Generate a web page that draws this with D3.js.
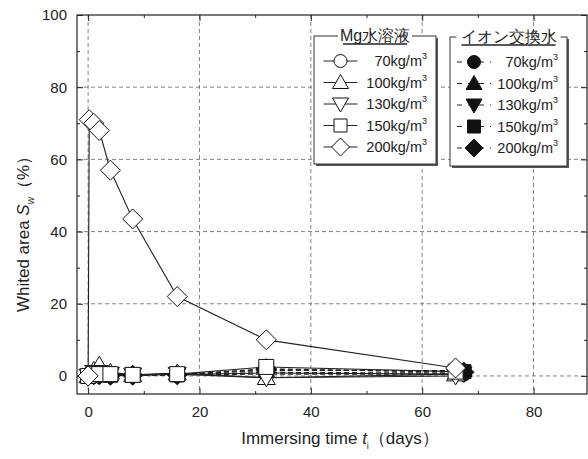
<!DOCTYPE html>
<html>
<head>
<meta charset="utf-8">
<script src="https://cdn.jsdelivr.net/npm/d3@7"></script>
<style>
  body { margin: 0; background: #fff; }
  text { font-family: "Liberation Sans", Arial, sans-serif; fill: #222; }
</style>
</head>
<body>
<div id="chart"></div>
<script>
// data
var mgDays = [0, 1, 2, 4, 8, 16, 32, 66];
var mg200Days = [0, 0.2, 1, 2, 4, 8, 16, 32, 66];
var ionDays = [0, 1, 2, 4, 8, 16, 32, 67.5];

var mg70 = [0, 0.3, 0.5, 0.3, 0.2, 0.4, 0.8, 0.5];
var mg100 = [0, 1.5, 3, 1, 0.3, 0.8, -0.5, 0.5];
var mg130 = [0, 1, 1, 0.5, 0.3, 0.5, -0.5, 0];
var mg150 = [0, 0.5, 0.5, 0.5, 0.3, 0.5, 2.5, 1.2];
var mg200 = [0, 71, 70, 68, 57, 43.5, 22, 10, 2.2];

var ion70 = [0, 0.2, 0.3, 0.2, 0.2, 0.3, 0.5, 0.5];
var ion100 = [0, 0.5, 0.5, 0.3, 0.3, 0.5, 1.5, 1.5];
var ion130 = [0, 0.3, 0.3, 0.3, 0.2, 0.3, 1, 0.8];
var ion150 = [0, 0.3, 0.3, 0.2, 0.2, 0.3, 1.8, 1.2];
var ion200 = [0, 0.3, 0.3, 0.2, 0.2, 0.3, 2, 1];

var legendLabels = ["70kg/m", "100kg/m", "130kg/m", "150kg/m", "200kg/m"];
var xTicks = [0, 20, 40, 60, 80];
var yTicks = [0, 20, 40, 60, 80, 100];

var svgWidth = 588, svgHeight = 459;
var margin = { top: 15, right: 1, bottom: 65, left: 77 };
var width = svgWidth - margin.left - margin.right;
var height = svgHeight - margin.top - margin.bottom;

var svg = d3.select("#chart").append("svg")
  .attr("width", svgWidth)
  .attr("height", svgHeight);

var chartGroup = svg.append("g")
  .attr("transform", `translate(${margin.left}, ${margin.top})`);

var xScale = d3.scaleLinear().domain([-2, 89.6]).range([0, width]);
var yScale = d3.scaleLinear().domain([-5, 100]).range([height, 0]);

// grid
chartGroup.append("g").selectAll("line")
  .data(xTicks).enter().append("line")
  .attr("x1", d => xScale(d)).attr("x2", d => xScale(d))
  .attr("y1", 0).attr("y2", height)
  .attr("stroke", "#666").attr("stroke-width", 0.8)
  .attr("stroke-dasharray", "4,3");
chartGroup.append("g").selectAll("line")
  .data(yTicks.slice(0, 5)).enter().append("line")
  .attr("y1", d => yScale(d)).attr("y2", d => yScale(d))
  .attr("x1", 0).attr("x2", width)
  .attr("stroke", "#666").attr("stroke-width", 0.8)
  .attr("stroke-dasharray", "4,3");

// axes with inward ticks
var minorX = [10, 30, 50, 70];
var minorY = [10, 30, 50, 70, 90];
function styleAxis(g) {
  g.select(".domain").remove();
  g.selectAll("line").attr("stroke", "#222");
  g.selectAll("text").style("font-size", "15px").attr("fill", "#222");
}
chartGroup.append("g")
  .attr("transform", `translate(0, ${height})`)
  .call(d3.axisBottom(xScale).tickValues(xTicks).tickSizeInner(-6).tickSizeOuter(0).tickPadding(12))
  .call(styleAxis);
chartGroup.append("g")
  .attr("transform", `translate(0, ${height})`)
  .call(d3.axisBottom(xScale).tickValues(minorX).tickSizeInner(-3).tickSizeOuter(0).tickFormat(""))
  .call(styleAxis);
chartGroup.append("g")
  .call(d3.axisTop(xScale).tickValues(xTicks).tickSizeInner(-6).tickSizeOuter(0).tickFormat(""))
  .call(styleAxis);
chartGroup.append("g")
  .call(d3.axisTop(xScale).tickValues(minorX).tickSizeInner(-3).tickSizeOuter(0).tickFormat(""))
  .call(styleAxis);
chartGroup.append("g")
  .call(d3.axisLeft(yScale).tickValues(yTicks).tickSizeInner(-6).tickSizeOuter(0).tickPadding(10))
  .call(styleAxis);
chartGroup.append("g")
  .call(d3.axisLeft(yScale).tickValues(minorY).tickSizeInner(-3).tickSizeOuter(0).tickFormat(""))
  .call(styleAxis);
chartGroup.append("g")
  .attr("transform", `translate(${width}, 0)`)
  .call(d3.axisRight(yScale).tickValues(yTicks).tickSizeInner(-6).tickSizeOuter(0).tickFormat(""))
  .call(styleAxis);
chartGroup.append("g")
  .attr("transform", `translate(${width}, 0)`)
  .call(d3.axisRight(yScale).tickValues(minorY).tickSizeInner(-3).tickSizeOuter(0).tickFormat(""))
  .call(styleAxis);

chartGroup.append("rect")
  .attr("x", 0).attr("y", 0).attr("width", width).attr("height", height)
  .attr("fill", "none").attr("stroke", "#222").attr("stroke-width", 1.2);

// marker shapes
function markerPath(shape, s) {
  if (shape === "circle") return d3.symbol(d3.symbolCircle, Math.PI * s * s)();
  if (shape === "square") return `M${-s},${-s}H${s}V${s}H${-s}Z`;
  if (shape === "diamond") return `M0,${-s}L${s},0L0,${s}L${-s},0Z`;
  if (shape === "up") return `M0,${-s}L${s},${s * 0.75}L${-s},${s * 0.75}Z`;
  if (shape === "down") return `M0,${s}L${s},${-s * 0.75}L${-s},${-s * 0.75}Z`;
}

var series = [
  { days: ionDays, vals: ion70, shape: "circle", size: 7, filled: true },
  { days: ionDays, vals: ion100, shape: "up", size: 8, filled: true },
  { days: ionDays, vals: ion130, shape: "down", size: 8, filled: true },
  { days: ionDays, vals: ion150, shape: "square", size: 7, filled: true },
  { days: ionDays, vals: ion200, shape: "diamond", size: 10, filled: true },
  { days: mgDays, vals: mg70, shape: "circle", size: 7, filled: false },
  { days: mgDays, vals: mg100, shape: "up", size: 9, filled: false },
  { days: mgDays, vals: mg130, shape: "down", size: 9, filled: false },
  { days: mgDays, vals: mg150, shape: "square", size: 7.5, filled: false },
  { days: mg200Days, vals: mg200, shape: "diamond", size: 10, filled: false }
];

var line = d3.line().x(d => xScale(d[0])).y(d => yScale(d[1]));

series.forEach(function (s) {
  var pts = s.days.map((d, i) => [d, s.vals[i]]);
  chartGroup.append("path")
    .datum(pts)
    .attr("d", line)
    .attr("fill", "none")
    .attr("stroke", "#222")
    .attr("stroke-width", 1.1)
    .attr("stroke-dasharray", s.filled ? "5,3" : null);
});

series.forEach(function (s) {
  var pts = s.days.map((d, i) => [d, s.vals[i]]);
  chartGroup.append("g").selectAll("path")
    .data(pts).enter().append("path")
    .attr("transform", d => `translate(${xScale(d[0])}, ${yScale(d[1])})`)
    .attr("d", markerPath(s.shape, s.size))
    .attr("fill", s.filled ? "#111" : "#fff")
    .attr("stroke", "#111")
    .attr("stroke-width", 1);
});

// legends
function drawLegend(x0, y0, w, h, title, titleW, filled) {
  var g = svg.append("g").attr("transform", `translate(${x0}, ${y0})`);
  g.append("rect").attr("x", 2).attr("y", 2).attr("width", w).attr("height", h)
    .attr("fill", "#555");
  g.append("rect").attr("x", 0).attr("y", 0).attr("width", w).attr("height", h)
    .attr("fill", "#fff").attr("stroke", "#333").attr("stroke-width", 1);
  g.append("rect").attr("x", w / 2 - titleW / 2 - 5).attr("y", -3)
    .attr("width", titleW + 10).attr("height", 6).attr("fill", "#fff");
  g.append("text").attr("x", w / 2).attr("y", 5)
    .attr("text-anchor", "middle").style("font-size", "16px")
    .text(title);
  g.append("line").attr("x1", w / 2 - titleW / 2).attr("x2", w / 2 + titleW / 2)
    .attr("y1", 8).attr("y2", 8).attr("stroke", "#222").attr("stroke-width", 1.4);
  var shapes = ["circle", "up", "down", "square", "diamond"];
  var sizes = [6.5, 8, 8, 6.5, 9];
  var symX = filled ? 24 : 26.5;
  shapes.forEach(function (sh, i) {
    var yy = 25 + i * 21.5;
    g.append("line").attr("x1", symX - 17).attr("x2", symX + 17).attr("y1", yy).attr("y2", yy)
      .attr("stroke", "#222").attr("stroke-width", 1)
      .attr("stroke-dasharray", filled ? "5,6" : null);
    g.append("path").attr("transform", `translate(${symX}, ${yy})`)
      .attr("d", markerPath(sh, sizes[i]))
      .attr("fill", filled ? "#111" : "#fff")
      .attr("stroke", "#111");
    var t = g.append("text").attr("x", w - 9).attr("y", yy + 5)
      .attr("text-anchor", "end").style("font-size", "14.5px");
    t.append("tspan").text(legendLabels[i]);
    t.append("tspan").attr("dy", -7).style("font-size", "9px").text("3");
  });
}
drawLegend(314, 36, 122, 128, "Mg水溶液", 64, false);
drawLegend(450, 37, 117, 129, "イオン交換水", 94, true);

// axis titles
var xt = svg.append("text")
  .attr("x", 340).attr("y", 444)
  .attr("text-anchor", "middle").style("font-size", "17px");
xt.append("tspan").text("Immersing time ");
xt.append("tspan").style("font-style", "italic").text("t");
xt.append("tspan").attr("dy", 5).style("font-size", "9px").text("i");
xt.append("tspan").attr("dy", -5).text("（days）");

var yt = svg.append("text")
  .attr("transform", "translate(29, 230) rotate(-90)")
  .attr("text-anchor", "middle").style("font-size", "17px");
yt.append("tspan").text("Whited area  ");
yt.append("tspan").style("font-style", "italic").text("S");
yt.append("tspan").attr("dy", 5).style("font-size", "10px").style("font-style", "italic").text("w");
yt.append("tspan").attr("dy", -5).text("（%）");
</script>
</body>
</html>
